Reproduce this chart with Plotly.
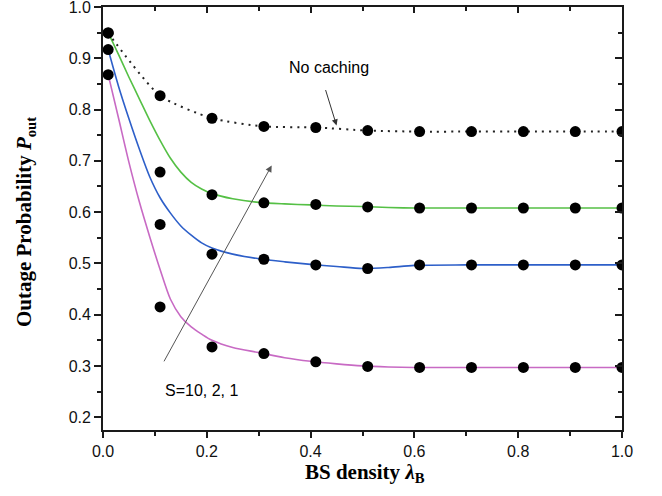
import plotly.graph_objects as go

# ---------------- data ----------------
dot_x = [0.01, 0.11, 0.21, 0.31, 0.41, 0.51, 0.61, 0.71, 0.81, 0.91, 1.0]
no_caching = [0.949, 0.827, 0.783, 0.767, 0.765, 0.759, 0.757, 0.757, 0.757, 0.757, 0.757]
sim_s10 = [0.950, 0.678, 0.634, 0.618, 0.615, 0.610, 0.608, 0.608, 0.608, 0.608, 0.608]
sim_s2 = [0.917, 0.576, 0.518, 0.508, 0.497, 0.490, 0.497, 0.497, 0.497, 0.497, 0.497]
sim_s1 = [0.868, 0.415, 0.337, 0.324, 0.308, 0.299, 0.297, 0.297, 0.297, 0.297, 0.297]

curve_x = [0.01, 0.03, 0.05, 0.07, 0.09, 0.11, 0.13, 0.15, 0.17, 0.19, 0.21,
           0.25, 0.30, 0.35, 0.40, 0.45, 0.50, 0.55, 0.60, 0.70, 0.80, 0.90, 1.00]
ana_s10 = [0.950, 0.907, 0.863, 0.821, 0.779, 0.740, 0.705, 0.678, 0.658, 0.645, 0.636,
           0.626, 0.619, 0.616, 0.614, 0.612, 0.611, 0.609, 0.608, 0.608, 0.608, 0.608, 0.608]
ana_s2 = [0.917, 0.845, 0.782, 0.723, 0.669, 0.628, 0.598, 0.573, 0.555, 0.540, 0.530,
          0.518, 0.509, 0.503, 0.498, 0.494, 0.490, 0.492, 0.496, 0.497, 0.497, 0.497, 0.497]
ana_s1 = [0.868, 0.783, 0.697, 0.620, 0.552, 0.488, 0.430, 0.396, 0.376, 0.362, 0.350,
          0.336, 0.326, 0.316, 0.309, 0.304, 0.300, 0.298, 0.297, 0.297, 0.297, 0.297, 0.297]

x_ticks = [0.0, 0.2, 0.4, 0.6, 0.8, 1.0]
y_ticks = [0.2, 0.3, 0.4, 0.5, 0.6, 0.7, 0.8, 0.9, 1.0]

GREEN = "#55c045"
BLUE = "#2d5fc9"
PINK = "#c86ac4"

fig = go.Figure()

# analytical curves
for ys, col in [(ana_s1, PINK), (ana_s2, BLUE), (ana_s10, GREEN)]:
    fig.add_trace(go.Scatter(x=curve_x, y=ys, mode="lines",
                             line=dict(color=col, width=1.6, shape="spline", smoothing=0.8),
                             showlegend=False, hoverinfo="skip"))

# no caching dotted line
fig.add_trace(go.Scatter(x=dot_x, y=no_caching, mode="lines",
                         line=dict(color="#222", width=2, dash="2px,5px", shape="spline", smoothing=0.6),
                         showlegend=False))

# simulation dots
for ys in [no_caching, sim_s10, sim_s2, sim_s1]:
    fig.add_trace(go.Scatter(x=dot_x, y=ys, mode="markers",
                             marker=dict(color="black", size=11, line=dict(width=0)),
                             showlegend=False))

# dummy trace for mirrored inner-tick axes
fig.add_trace(go.Scatter(x=[None], y=[None], xaxis="x2", yaxis="y2", showlegend=False))

tickfont = dict(family="Liberation Sans, Arial", size=16, color="#111")
axcol = "#1a1a1a"

fig.update_layout(
    width=662, height=496,
    margin=dict(l=103, r=40, t=7, b=66, autoexpand=False),
    paper_bgcolor="white", plot_bgcolor="white",
    xaxis=dict(range=[0, 1.0], tickvals=x_ticks, ticktext=[f"{v:.1f}" for v in x_ticks],
               ticks="outside", ticklen=6, tickwidth=1.5, tickcolor=axcol,
               minor=dict(dtick=0.1, ticks="outside", ticklen=4, tickwidth=1.5, tickcolor=axcol),
               showline=True, linewidth=1.8, linecolor=axcol, showgrid=False, zeroline=False,
               tickfont=tickfont, ticklabeloverflow="allow", automargin=False),
    yaxis=dict(range=[0.175, 1.0], tickvals=y_ticks, ticktext=[f"{v:.1f}" for v in y_ticks],
               ticks="outside", ticklen=7, tickwidth=1.5, tickcolor=axcol,
               minor=dict(dtick=0.05, tick0=0, ticks="outside", ticklen=4, tickwidth=1.5, tickcolor=axcol),
               showline=True, linewidth=1.8, linecolor=axcol, showgrid=False, zeroline=False,
               tickfont=tickfont, ticklabeloverflow="allow", automargin=False),
    xaxis2=dict(range=[0, 1.0], overlaying="x", side="top", anchor="y",
                tickvals=x_ticks, showticklabels=False,
                ticks="inside", ticklen=6, tickwidth=1.5, tickcolor=axcol,
                minor=dict(dtick=0.1, ticks="inside", ticklen=4, tickwidth=1.5, tickcolor=axcol),
                showline=True, linewidth=1.8, linecolor=axcol, showgrid=False, zeroline=False),
    yaxis2=dict(range=[0.175, 1.0], overlaying="y", side="right", anchor="x",
                tickvals=y_ticks, showticklabels=False,
                ticks="inside", ticklen=7, tickwidth=1.5, tickcolor=axcol,
                minor=dict(dtick=0.05, tick0=0, ticks="inside", ticklen=4, tickwidth=1.5, tickcolor=axcol),
                showline=True, linewidth=1.8, linecolor=axcol, showgrid=False, zeroline=False),
)

serif = dict(family="Liberation Serif, Times New Roman", size=21, color="black")

annotations = [
    dict(text="<b>Outage Probability <i>P</i><sub>out</sub></b>", xref="paper", yref="paper",
         x=-0.150, y=0.492, xanchor="center", yanchor="middle", textangle=-90,
         showarrow=False, font=serif),
    dict(text="<b>BS density <i>λ</i><sub>B</sub></b>", xref="paper", yref="paper",
         x=0.505, y=-0.102, xanchor="center", yanchor="middle",
         showarrow=False, font=serif),
    dict(text="No caching", x=0.435, y=0.882, xref="x", yref="y", showarrow=False,
         font=dict(family="Liberation Sans, Arial", size=16, color="black")),
    dict(text="S=10, 2, 1", x=0.19, y=0.252, xref="x", yref="y", showarrow=False,
         font=dict(family="Liberation Sans, Arial", size=16, color="black")),
    # arrow to no caching curve
    dict(text="", x=0.450, y=0.769, ax=0.428, ay=0.841, xref="x", yref="y",
         axref="x", ayref="y", showarrow=True, arrowhead=2, arrowsize=1.2,
         arrowwidth=1, arrowcolor="#333"),
    # big arrow indicating S
    dict(text="", x=0.325, y=0.691, ax=0.116, ay=0.306, xref="x", yref="y",
         axref="x", ayref="y", showarrow=True, arrowhead=2, arrowsize=1.3,
         arrowwidth=1, arrowcolor="#555"),
]
fig.update_layout(annotations=annotations)

fig.write_html("out.html",
               config={"displayModeBar": False},
               post_script="document.body.style.margin='0';document.body.style.padding='0';"
                           "document.body.style.overflow='hidden';"
                           "document.documentElement.style.overflow='hidden';")
